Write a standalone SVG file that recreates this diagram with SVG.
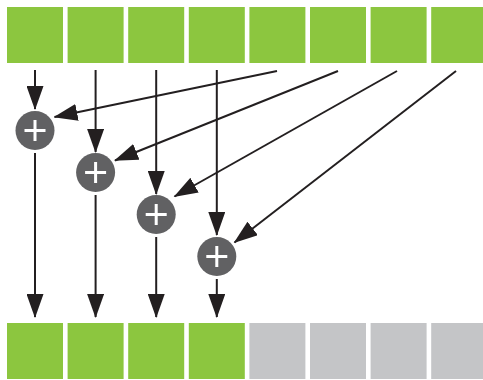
<svg xmlns="http://www.w3.org/2000/svg" width="483" height="380" viewBox="0 0 483 380">
  <style>
    .g { fill: #8cc63f; }
    .x { fill: #c4c5c7; }
    .c { fill: #616163; }
    .p { stroke: #ffffff; stroke-width: 3; fill: none; }
    .ln { stroke: #231f20; stroke-width: 2; fill: none; marker-end: url(#ah); }
  </style>
  <defs>
    <marker id="ah" markerUnits="userSpaceOnUse" markerWidth="24" markerHeight="17" refX="23" refY="8.5" orient="auto">
      <path d="M0,0 L24,8.5 L0,17 Z" fill="#231f20"/>
    </marker>
  </defs>
  <rect width="483" height="380" fill="#ffffff"/>

  <g id="top-boxes">
    <rect id="t0" class="g" x="7" y="7" width="56" height="56"/>
    <rect id="t1" class="g" x="67.6" y="7" width="56" height="56"/>
    <rect id="t2" class="g" x="128.2" y="7" width="56" height="56"/>
    <rect id="t3" class="g" x="188.8" y="7" width="56" height="56"/>
    <rect id="t4" class="g" x="249.4" y="7" width="56" height="56"/>
    <rect id="t5" class="g" x="310" y="7" width="56" height="56"/>
    <rect id="t6" class="g" x="370.6" y="7" width="56" height="56"/>
    <rect id="t7" class="g" x="431.2" y="7" width="56" height="56"/>
  </g>

  <g id="bottom-boxes">
    <rect id="b0" class="g" x="7" y="323" width="56" height="56"/>
    <rect id="b1" class="g" x="67.6" y="323" width="56" height="56"/>
    <rect id="b2" class="g" x="128.2" y="323" width="56" height="56"/>
    <rect id="b3" class="g" x="188.8" y="323" width="56" height="56"/>
    <rect id="b4" class="x" x="249.4" y="323" width="56" height="56"/>
    <rect id="b5" class="x" x="310" y="323" width="56" height="56"/>
    <rect id="b6" class="x" x="370.6" y="323" width="56" height="56"/>
    <rect id="b7" class="x" x="431.2" y="323" width="56" height="56"/>
  </g>

  <g id="connectors">
    <line class="ln" x1="35" y1="70" x2="35" y2="109"/>
    <line class="ln" x1="95.6" y1="70" x2="95.6" y2="152"/>
    <line class="ln" x1="156.2" y1="70" x2="156.2" y2="194"/>
    <line class="ln" x1="216.8" y1="70" x2="216.8" y2="235"/>

    <line class="ln" x1="277" y1="71" x2="54.5" y2="117"/>
    <line class="ln" x1="338" y1="71" x2="115" y2="160.5"/>
    <line class="ln" x1="397" y1="71" x2="174.5" y2="196.5"/>
    <line class="ln" x1="456" y1="71" x2="234.5" y2="242.5"/>

    <line class="ln" x1="35" y1="153" x2="35" y2="317"/>
    <line class="ln" x1="95.6" y1="195" x2="95.6" y2="317"/>
    <line class="ln" x1="156.2" y1="237" x2="156.2" y2="317"/>
    <line class="ln" x1="216.8" y1="279" x2="216.8" y2="317"/>
  </g>

  <g id="add1">
    <circle class="c" cx="35" cy="130.5" r="19.5"/>
    <path class="p" d="M24.5,130.5 H45.5 M35,120 V141"/>
  </g>
  <g id="add2">
    <circle class="c" cx="95.6" cy="172.5" r="19.5"/>
    <path class="p" d="M85.1,172.5 H106.1 M95.6,162 V183"/>
  </g>
  <g id="add3">
    <circle class="c" cx="156.2" cy="214.5" r="19.5"/>
    <path class="p" d="M145.7,214.5 H166.7 M156.2,204 V225"/>
  </g>
  <g id="add4">
    <circle class="c" cx="216.8" cy="256.5" r="19.5"/>
    <path class="p" d="M206.3,256.5 H227.3 M216.8,246 V267"/>
  </g>
</svg>
